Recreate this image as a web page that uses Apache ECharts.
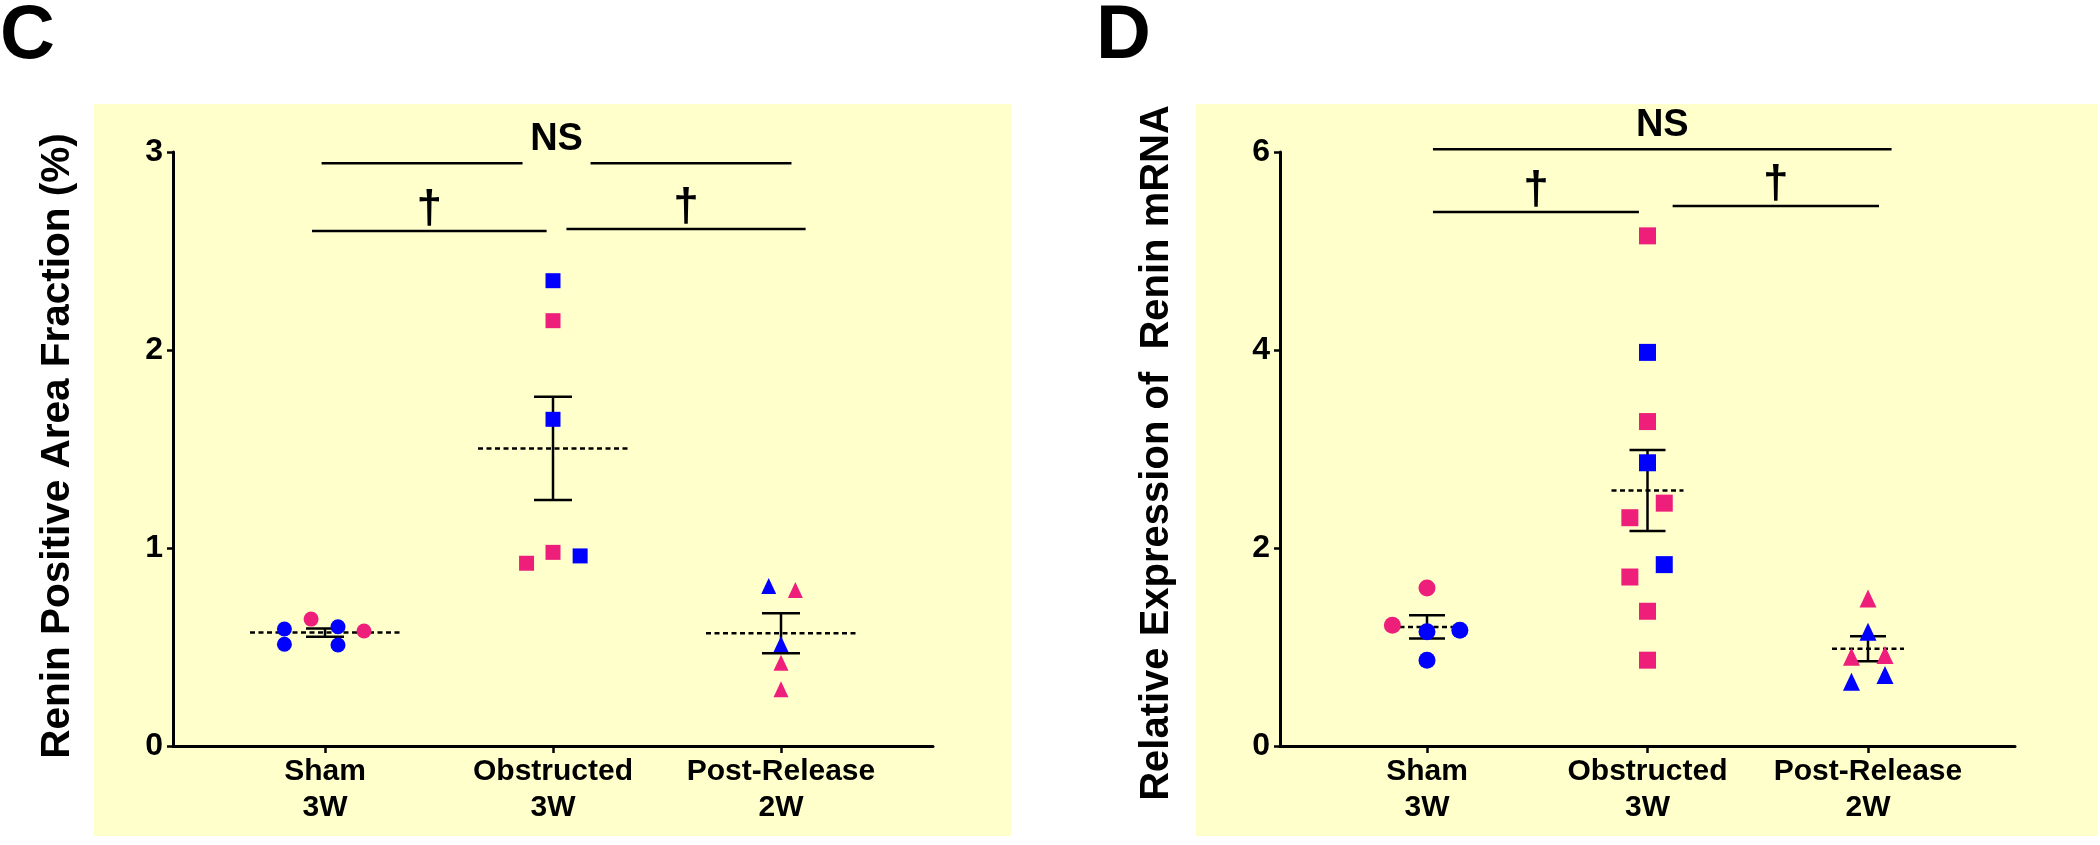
<!DOCTYPE html>
<html><head><meta charset="utf-8">
<script src="https://cdn.jsdelivr.net/npm/echarts@6/dist/echarts.min.js"></script>
<style>html,body{margin:0;padding:0;background:#fff;}#chart{width:2100px;height:845px;}</style>
</head><body><div id="chart"></div>
<script>
// ---------- data ----------
const groupLabels = ['Sham\n3W', 'Obstructed\n3W', 'Post-Release\n2W'];
const groupSymbols = ['circle', 'rect', 'triangle'];
const cTitle = 'Renin Positive Area Fraction (%)';
const dTitle = 'Relative Expression of  Renin mRNA';
const cYMax = 3, cYStep = 1;
const dYMax = 6, dYStep = 2;

// points: [groupIndex, horizontal jitter (group units), value]
const cBlue = [[0,-0.178,0.591],[0,-0.178,0.514],[0,0.057,0.602],[0,0.057,0.510],
               [1,0,2.35],[1,0,1.65],[1,0.119,0.96],
               [2,-0.054,0.808],[2,0,0.515]];
const cPink = [[0,-0.061,0.641],[0,0.171,0.581],
               [1,0,2.148],[1,-0.116,0.923],[1,0,0.978],
               [2,0.063,0.788],[2,0,0.421],[2,0,0.286]];
const cMean = [0.573, 1.503, 0.569];
const cSem  = [0.021, 0.261, 0.101];
const cSigFrom  = [0.985, 0.943, 2.059];
const cSigTo    = [3.046, 1.972, 3.108];
const cSigLevel = [2.943, 2.601, 2.611];
const cSigLabel = ['NS', '\u2020', '\u2020'];

const dBlue = [[0,0,1.153],[0,0.149,1.170],[0,0,0.867],
               [1,0,3.976],[1,0,2.861],[1,0.076,1.832],
               [2,0,1.153],[2,0.077,0.716],[2,-0.075,0.649]];
const dPink = [[0,0,1.596],[0,-0.157,1.220],
               [1,0,5.153],[1,0,3.277],[1,0.076,2.453],[1,-0.08,2.306],[1,-0.08,1.707],[1,0,1.361],[1,0,0.867],
               [2,0,1.489],[2,-0.075,0.901],[2,0.077,0.918]];
const dMean = [1.203, 2.581, 0.983];
const dSem  = [0.118, 0.410, 0.126];
const dSigFrom  = [1.027, 1.027, 2.114];
const dSigTo    = [3.107, 1.961, 3.050];
const dSigLevel = [6.027, 5.395, 5.455];
const dSigLabel = ['NS', '\u2020', '\u2020'];

// ---------- styling ----------
const FF = '"Liberation Sans", Arial, sans-serif';
const BLUE = '#0000FF', PINK = '#EE1F7A', BG = '#FFFFCC';

function xAxis(gi) {
  return {
    gridIndex: gi, type: 'value', min: 1/3, max: 11/3,
    axisLine: { show: true, lineStyle: { color: '#000', width: 3 } },
    axisTick: { show: true, customValues: [1,2,3], length: 7, lineStyle: { color: '#000', width: 2.5 } },
    axisLabel: { show: true, customValues: [1,2,3], formatter: v => groupLabels[Math.round(v) - 1],
      fontSize: 30, fontWeight: 'bold', fontFamily: FF, color: '#000', lineHeight: 36, margin: 8 },
    splitLine: { show: false }
  };
}
function yAxis(gi, max, step) {
  return {
    gridIndex: gi, type: 'value', min: 0, max: max, interval: step,
    axisLine: { show: true, lineStyle: { color: '#000', width: 3 } },
    axisTick: { show: true, length: 6, lineStyle: { color: '#000', width: 2.5 } },
    axisLabel: { fontSize: 32, fontWeight: 'bold', fontFamily: FF, color: '#000', margin: 10 },
    splitLine: { show: false }
  };
}
function scatter(ai, pts, color, size) {
  return {
    type: 'scatter', xAxisIndex: ai, yAxisIndex: ai, z: 5, clip: false,
    itemStyle: { color: color, opacity: 1 },
    data: pts.map(p => ({ value: [p[0] + 1 + p[1], p[2]], symbol: groupSymbols[p[0]],
      symbolSize: groupSymbols[p[0]] === 'triangle' ? [size, size + 1] : size }))
  };
}
function meanSem(ai, means, sems, halfDash, halfCap) {
  return {
    type: 'custom', xAxisIndex: ai, yAxisIndex: ai, z: 3, clip: false,
    data: means.map((m, i) => [i + 1, m, sems[i]]),
    encode: { x: 0, y: 1 },
    renderItem: (params, api) => {
      const x = api.value(0), m = api.value(1), s = api.value(2);
      const c = api.coord([x, m]), t = api.coord([x, m + s]), b = api.coord([x, m - s]);
      const ls = { stroke: '#000', lineWidth: 2.5 };
      return { type: 'group', children: [
        { type: 'line', shape: { x1: c[0] - halfDash, y1: c[1], x2: c[0] + halfDash, y2: c[1] },
          style: { stroke: '#000', lineWidth: 2.5, lineDash: [5, 3.5] } },
        { type: 'line', shape: { x1: t[0], y1: t[1], x2: b[0], y2: b[1] }, style: ls },
        { type: 'line', shape: { x1: t[0] - halfCap, y1: t[1], x2: t[0] + halfCap, y2: t[1] }, style: ls },
        { type: 'line', shape: { x1: b[0] - halfCap, y1: b[1], x2: b[0] + halfCap, y2: b[1] }, style: ls }
      ]};
    }
  };
}
function sig(ai, from, to, level, labels, nsGap) {
  return {
    type: 'custom', xAxisIndex: ai, yAxisIndex: ai, z: 4, clip: false,
    data: from.map((f, i) => [f, to[i], level[i], i]),
    encode: { x: [0, 1], y: 2 },
    renderItem: (params, api) => {
      const a = api.coord([api.value(0), api.value(2)]);
      const b = api.coord([api.value(1), api.value(2)]);
      const lab = labels[api.value(3)];
      const mid = (a[0] + b[0]) / 2;
      const ls = { stroke: '#000', lineWidth: 2.5 };
      const ch = [];
      if (lab === 'NS' && nsGap > 0) {
        ch.push({ type: 'line', shape: { x1: a[0], y1: a[1], x2: mid - nsGap, y2: a[1] }, style: ls });
        ch.push({ type: 'line', shape: { x1: mid + nsGap, y1: a[1], x2: b[0], y2: b[1] }, style: ls });
      } else {
        ch.push({ type: 'line', shape: { x1: a[0], y1: a[1], x2: b[0], y2: b[1] }, style: ls });
      }
      const isNS = lab === 'NS';
      ch.push({ type: 'text', x: mid, y: a[1] - (isNS ? 24 : 21),
        style: { text: lab, fill: '#000', font: 'bold ' + (isNS ? 38 : 46) + 'px ' + FF,
                 align: 'center', verticalAlign: 'middle' } });
      return { type: 'group', children: ch };
    }
  };
}

const chart = echarts.init(document.getElementById('chart'), null, { renderer: 'canvas' });
chart.setOption({
  animation: false,
  backgroundColor: '#fff',
  graphic: [
    { type: 'rect', z: -100, shape: { x: 94, y: 104, width: 917, height: 732 }, style: { fill: BG } },
    { type: 'rect', z: -100, shape: { x: 1196, y: 104, width: 901, height: 732 }, style: { fill: BG } },
    { type: 'text', x: 0, y: 37, style: { text: 'C', font: 'bold 76px ' + FF, fill: '#000', verticalAlign: 'middle' } },
    { type: 'text', x: 1096, y: 37, style: { text: 'D', font: 'bold 76px ' + FF, fill: '#000', verticalAlign: 'middle' } },
    { type: 'text', x: 58, y: 446, rotation: Math.PI / 2,
      style: { text: cTitle, font: 'bold 40.5px ' + FF, fill: '#000', align: 'center', verticalAlign: 'middle' } },
    { type: 'text', x: 1157, y: 453, rotation: Math.PI / 2,
      style: { text: dTitle, font: 'bold 40px ' + FF, fill: '#000', align: 'center', verticalAlign: 'middle' } }
  ],
  grid: [
    { left: 173, top: 152, width: 760, height: 594, outerBoundsMode: 'none' },
    { left: 1280, top: 152, width: 735, height: 594, outerBoundsMode: 'none' }
  ],
  xAxis: [xAxis(0), xAxis(1)],
  yAxis: [yAxis(0, cYMax, cYStep), yAxis(1, dYMax, dYStep)],
  series: [
    meanSem(0, cMean, cSem, 75, 19),
    sig(0, cSigFrom, cSigTo, cSigLevel, cSigLabel, 34),
    scatter(0, cBlue, BLUE, 15),
    scatter(0, cPink, PINK, 15),
    meanSem(1, dMean, dSem, 36, 18),
    sig(1, dSigFrom, dSigTo, dSigLevel, dSigLabel, 0),
    scatter(1, dBlue, BLUE, 17),
    scatter(1, dPink, PINK, 17)
  ]
});
</script></body></html>
